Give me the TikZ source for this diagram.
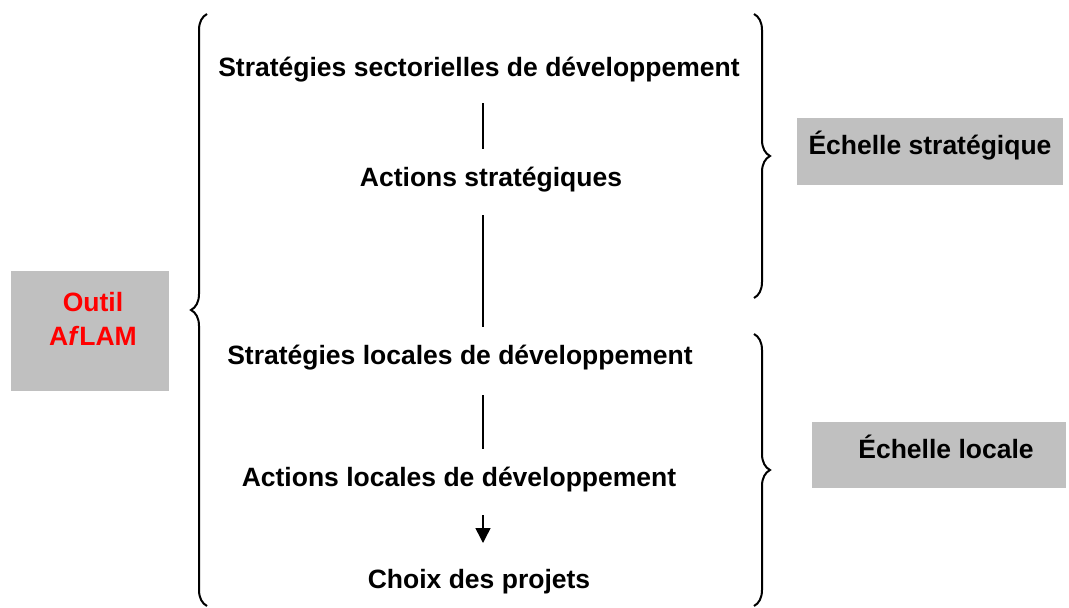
\documentclass[tikz,border=0pt]{standalone}
\usepackage{fontspec}
\setmainfont{Liberation Sans}
\usetikzlibrary{arrows.meta,decorations.pathreplacing,positioning}
\definecolor{boxgray}{RGB}{192,192,192}
\tikzset{
  level/.style={font=\fontsize{26.5}{30}\selectfont\bfseries,inner sep=2pt},
  scalebox/.style={fill=boxgray,inner sep=0pt},
  scaletext/.style={font=\fontsize{26.5}{30}\selectfont\bfseries},
  link/.style={line width=1.5pt},
  flow/.style={-{Triangle[length=15pt,width=15pt]},line width=1.5pt},
  bigbrace/.style={decorate,decoration={brace,amplitude=16pt},line width=2pt}
}
\begin{document}
\begin{tikzpicture}[x=1pt,y=-1pt]
  \useasboundingbox (0,0) rectangle (1069,608);
  % boxes
  \node[scalebox,minimum width=158pt,minimum height=120pt] (tool) at (90,331) {};
  \node[scaletext,text=red,align=center] (toolname) at (93,319)
    {Outil\\[4pt]A\textit{f}LAM};
  \node[scalebox,minimum width=266pt,minimum height=67pt,anchor=north west] (strat) at (797,118) {};
  \node[scaletext] (strattext) at (930,146) {Échelle stratégique};
  \node[scalebox,minimum width=254pt,minimum height=66pt,anchor=north west] (local) at (812,422) {};
  \node[scaletext] (localtext) at (946,447) {Échelle locale};
  % levels
  \coordinate (axis) at (483,0);
  \node[level] (sect) at (479,70) {Stratégies sectorielles de développement};
  \node[level] (actstrat) at (491,180) {Actions stratégiques};
  \node[level] (stratloc) at (460,358) {Stratégies locales de développement};
  \node[level] (actloc) at (459,480) {Actions locales de développement};
  \node[level] (choix) at (479,582) {Choix des projets};
  \draw[link] (axis |- 0,103) -- (axis |- 0,149);
  \draw[link] (axis |- 0,215) -- (axis |- 0,327);
  \draw[link] (axis |- 0,395) -- (axis |- 0,449);
  \draw[flow] (axis |- 0,515) -- (axis |- 0,543);
  % braces
  \draw[bigbrace] (207,606) -- (207,14);
  \draw[bigbrace] (754,14) -- (754,298);
  \draw[bigbrace] (754,334) -- (754,606);
\end{tikzpicture}
\end{document}
